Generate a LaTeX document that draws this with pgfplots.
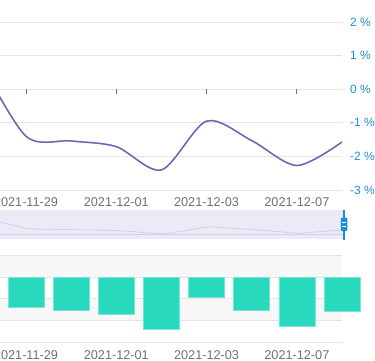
\documentclass[border=0pt]{standalone}
\usepackage{fontspec}
\setmainfont{Liberation Sans}
\usepackage{pgfplots}
\pgfplotsset{compat=1.18}
\definecolor{gridc}{RGB}{228,228,228}
\definecolor{labgrey}{RGB}{110,112,121}
\definecolor{ablue}{RGB}{30,144,212}
\definecolor{lineblue}{RGB}{80,110,205}
\definecolor{linered}{RGB}{238,120,120}
\definecolor{barteal}{RGB}{41,217,190}
\definecolor{tealb}{RGB}{120,232,212}
\definecolor{bandgrey}{RGB}{247,247,247}
\definecolor{slidebg}{RGB}{237,234,248}
\definecolor{shadowc}{RGB}{212,206,232}
\definecolor{handleb}{RGB}{24,140,214}
\pgfplotstableread{
x y
-1 0.80
0 -1.40
1 -1.54
2 -1.71
3 -2.40
4 -0.95
5 -1.53
6 -2.27
7 -1.57
}\datatab
\begin{document}
\begin{tikzpicture}
\useasboundingbox (0pt,0pt) rectangle (375pt,360pt);
\begin{scope}
\clip (0pt,0pt) rectangle (375pt,360pt);
% top line chart
\begin{axis}[at={(0pt,170pt)}, anchor=south west, scale only axis,
  width=342pt, height=168pt,
  xmin=-0.5765, xmax=7, ymin=-3, ymax=2,
  axis line style={draw=none}, major tick length=0pt,
  xtick={0,2,4,6}, xticklabels={2021-11-29,2021-12-01,2021-12-03,2021-12-07},
  xticklabel style={anchor=north, inner sep=0pt, yshift=-7pt, text=labgrey, font=\fontsize{12.7}{14}\selectfont},
  ytick={-3,-2,-1,0,1,2}, yticklabels={-3 \%,-2 \%,-1 \%,0 \%,1 \%,2 \%},
  yticklabel pos=right,
  yticklabel style={anchor=west, inner sep=0pt, xshift=8pt, text=ablue, font=\fontsize{12}{14}\selectfont},
  ymajorgrids, grid style={gridc, line width=0.8pt}]
\pgfplotsinvokeforeach{0,2,4,6}{\draw[labgrey, line width=0.9pt] (axis cs:#1,0) -- ++(0pt,-5pt);}
\addplot[linered, line width=1.6pt, smooth] table[x=x,y=y] {\datatab};
\addplot[lineblue, line width=1.2pt, smooth] table[x=x,y=y] {\datatab};
\end{axis}
% slider
\fill[slidebg] (0pt,121pt) rectangle (344pt,150pt);
\begin{axis}[at={(0pt,121pt)}, anchor=south west, scale only axis,
  width=344pt, height=29pt,
  xmin=-0.628, xmax=7, ymin=-3.39, ymax=2.37,
  axis lines=none, clip=true]
\draw[shadowc, line width=0.6pt] (axis cs:-0.628,-2.40) -- (axis cs:7,-2.40);
\addplot[shadowc, line width=0.8pt] table[x=x,y=y] {\datatab};
\end{axis}
\draw[handleb, line width=1.2pt] (344pt,120pt) -- (344pt,150pt);
\fill[handleb, rounded corners=1pt] (340.8pt,129pt) rectangle (347.4pt,142.3pt);
\draw[white, line width=0.8pt] (342.3pt,133.6pt) -- (345.9pt,133.6pt);
\draw[white, line width=0.8pt] (342.3pt,137.6pt) -- (345.9pt,137.6pt);
% bottom bar chart
\begin{axis}[at={(0pt,18pt)}, anchor=south west, scale only axis,
  width=342pt, height=86.4pt,
  xmin=-0.5765, xmax=7, ymin=-3, ymax=1,
  axis line style={draw=none}, major tick length=0pt,
  xtick={0,2,4,6}, xticklabels={2021-11-29,2021-12-01,2021-12-03,2021-12-07},
  xticklabel style={anchor=north, inner sep=0pt, yshift=-8pt, text=labgrey, font=\fontsize{12.7}{14}\selectfont},
  ytick=\empty, clip=false]
\fill[bandgrey] (axis cs:-0.5765,0) rectangle (axis cs:7,1);
\fill[bandgrey] (axis cs:-0.5765,-2) rectangle (axis cs:7,-1);
\pgfplotsinvokeforeach{-3,-2,-1,0,1}{\draw[gridc, line width=0.8pt] (axis cs:-0.5765,#1) -- (axis cs:7,#1);}
\addplot[ybar, bar width=36pt, fill=barteal, draw=tealb, line width=0.6pt] table[x=x,y=y] {\datatab};
\end{axis}
\end{scope}
\end{tikzpicture}
\end{document}
